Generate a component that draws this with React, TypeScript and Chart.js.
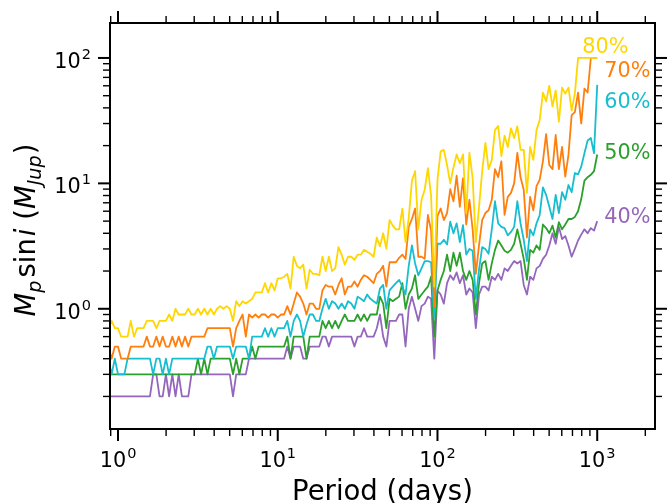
import React, { useEffect, useRef } from "react";
import { Chart, registerables } from "chart.js";

Chart.register(...registerables);

// Orbital period grid (days)
const periods = [
  0.871, 0.912, 0.955,
  1.0, 1.047, 1.096, 1.148, 1.202, 1.259, 1.318, 1.38, 1.445, 1.514,
  1.585, 1.66, 1.738, 1.82, 1.905, 1.995, 2.089, 2.188, 2.291, 2.399,
  2.512, 2.63, 2.754, 2.884, 3.02, 3.162, 3.311, 3.467, 3.631, 3.802,
  3.981, 4.169, 4.365, 4.571, 4.786, 5.012, 5.248, 5.495, 5.754, 6.026,
  6.31, 6.607, 6.918, 7.244, 7.586, 7.943, 8.318, 8.71, 9.12, 9.55,
  10.0, 10.47, 10.96, 11.48, 12.02, 12.59, 13.18, 13.8, 14.45, 15.14,
  15.85, 16.6, 17.38, 18.2, 19.05, 19.95, 20.89, 21.88, 22.91, 23.99,
  25.12, 26.3, 27.54, 28.84, 30.2, 31.62, 33.11, 34.67, 36.31, 38.02,
  39.81, 41.69, 43.65, 45.71, 47.86, 50.12, 52.48, 54.95, 57.54, 60.26,
  63.1, 66.07, 69.18, 72.44, 75.86, 79.43, 83.18, 87.1, 91.2, 95.5,
  100, 104.7, 109.6, 114.8, 120.2, 125.9, 131.8, 138, 144.5, 151.4,
  158.5, 166, 173.8, 182, 190.5, 199.5, 208.9, 218.8, 229.1, 239.9,
  251.2, 263, 275.4, 288.4, 302, 316.2, 331.1, 346.7, 363.1, 380.2,
  398.1, 416.9, 436.5, 457.1, 478.6, 501.2, 524.8, 549.5, 575.4, 602.6,
  631, 660.7, 691.8, 724.4, 758.6, 794.3, 831.8, 871, 912, 955,
  1000,
];

// Msini limits (M_Jup) for each completeness level
const mass40 = [
  0.2, 0.2, 0.2, 0.2, 0.2, 0.2, 0.2, 0.2, 0.2, 0.2,
  0.2, 0.2, 0.2, 0.2, 0.3, 0.3, 0.2, 0.2, 0.3, 0.2,
  0.3, 0.2, 0.3, 0.2, 0.2, 0.2, 0.3, 0.3, 0.3, 0.3,
  0.3, 0.3, 0.3, 0.3, 0.3, 0.3, 0.3, 0.3, 0.3, 0.2,
  0.3, 0.3, 0.3, 0.3, 0.4, 0.4, 0.4, 0.4, 0.4, 0.4,
  0.4, 0.4, 0.4, 0.4, 0.4, 0.4, 0.5, 0.4, 0.5, 0.5,
  0.5, 0.4, 0.4, 0.5, 0.5, 0.5, 0.5, 0.6, 0.6, 0.5,
  0.6, 0.6, 0.6, 0.6, 0.6, 0.6, 0.6, 0.5, 0.6, 0.6,
  0.7, 0.6, 0.6, 0.6, 0.7, 0.9, 0.6, 0.5, 0.8, 0.8,
  0.8, 0.9, 0.9, 0.5, 1.0, 1.25, 1.0, 0.8, 1.05, 1.1,
  1.25, 1.2, 0.4, 1.4, 1.3, 1.1, 1.6, 1.85, 1.7, 1.95,
  1.6, 1.85, 1.3, 1.45, 1.35, 0.7, 1.3, 1.5, 1.5, 1.4,
  1.8, 1.7, 1.9, 1.7, 2.1, 2.0, 2.2, 2.4, 2.3, 2.4,
  1.55, 1.3, 1.8, 1.7, 2.1, 2.2, 2.5, 2.7, 3.2, 4.0,
  3.3, 4.5, 3.6, 3.8, 3.2, 2.6, 3.0, 3.5, 3.9, 4.3,
  4.0, 4.4, 4.2, 5.0,
];

const mass50 = [
  0.3, 0.3, 0.3, 0.3, 0.3, 0.3, 0.3, 0.3, 0.3, 0.3,
  0.3, 0.3, 0.3, 0.3, 0.3, 0.3, 0.3, 0.3, 0.3, 0.3,
  0.3, 0.3, 0.3, 0.3, 0.3, 0.3, 0.3, 0.3, 0.4, 0.3,
  0.4, 0.3, 0.4, 0.4, 0.4, 0.4, 0.4, 0.4, 0.4, 0.3,
  0.4, 0.3, 0.4, 0.4, 0.4, 0.5, 0.4, 0.5, 0.5, 0.5,
  0.5, 0.5, 0.5, 0.5, 0.5, 0.5, 0.6, 0.4, 0.6, 0.6,
  0.6, 0.6, 0.4, 0.6, 0.6, 0.6, 0.6, 0.8, 0.7, 0.8,
  0.7, 0.8, 0.7, 0.8, 0.9, 0.8, 0.8, 0.8, 0.9, 0.8,
  0.9, 0.8, 0.9, 0.9, 0.9, 1.25, 1.1, 0.7, 1.2, 1.15,
  1.2, 1.25, 1.6, 1.0, 1.3, 1.45, 1.85, 1.2, 1.3, 1.4,
  1.5, 1.8, 0.6, 1.4, 1.7, 2.0, 2.7, 2.0, 2.8, 2.2,
  2.8, 2.0, 1.7, 2.0, 1.7, 0.9, 1.6, 2.3, 2.4, 1.7,
  2.3, 2.95, 3.5, 3.2, 2.9, 2.8, 2.95, 3.3, 4.3, 3.3,
  2.5, 1.7, 2.95, 2.8, 3.2, 2.95, 4.7, 4.4, 4.0, 4.6,
  3.7, 4.9, 4.3, 4.7, 5.2, 5.2, 5.4, 6.0, 7.5, 10.5,
  11.2, 11.7, 12.5, 17,
];

const mass60 = [
  0.4, 0.3, 0.4, 0.3, 0.3, 0.3, 0.4, 0.4, 0.4, 0.4,
  0.4, 0.4, 0.4, 0.4, 0.3, 0.4, 0.4, 0.3, 0.4, 0.3,
  0.4, 0.4, 0.4, 0.4, 0.4, 0.4, 0.4, 0.4, 0.4, 0.4,
  0.4, 0.5, 0.5, 0.4, 0.5, 0.5, 0.5, 0.5, 0.5, 0.4,
  0.5, 0.5, 0.5, 0.5, 0.4, 0.6, 0.6, 0.6, 0.6, 0.7,
  0.6, 0.7, 0.6, 0.7, 0.7, 0.7, 0.8, 0.6, 0.8, 0.9,
  0.8, 0.6, 0.75, 0.9, 0.9, 0.8, 0.8, 1.0, 1.2, 1.0,
  1.15, 1.1, 1.0, 1.1, 1.0, 1.15, 1.1, 1.0, 1.25, 1.2,
  1.15, 1.3, 1.2, 1.15, 1.1, 1.45, 1.55, 1.0, 1.4, 1.5,
  1.6, 1.7, 1.5, 1.3, 2.2, 3.2, 2.3, 1.85, 2.1, 2.4,
  2.4, 2.35, 0.85, 3.3, 3.3, 3.55, 3.25, 4.95, 4.0, 4.8,
  3.4, 4.65, 2.7, 3.0, 2.9, 1.2, 2.05, 3.1, 3.0, 2.75,
  4.3, 7.2, 4.8, 4.5, 4.4, 3.85, 4.1, 4.5, 7.2, 4.8,
  3.55, 2.4, 4.3, 3.85, 4.8, 5.6, 9.3, 8.1, 6.5, 5.2,
  8.1, 5.8, 8.5, 7.4, 9.7, 8.5, 12.1, 11.8, 13.6, 17.4,
  22, 23, 17.4, 61,
];

const mass70 = [
  0.5, 0.4, 0.5, 0.5, 0.4, 0.4, 0.4, 0.5, 0.5, 0.5,
  0.5, 0.5, 0.6, 0.5, 0.5, 0.6, 0.5, 0.6, 0.5, 0.5,
  0.6, 0.5, 0.6, 0.5, 0.6, 0.5, 0.6, 0.6, 0.6, 0.6,
  0.6, 0.7, 0.7, 0.7, 0.7, 0.7, 0.7, 0.7, 0.7, 0.5,
  0.7, 0.8, 0.9, 0.6, 0.9, 0.85, 0.9, 0.85, 0.9, 0.9,
  0.85, 0.9, 0.9, 0.85, 0.9, 0.9, 1.05, 0.9, 1.1, 1.35,
  1.25, 1.1, 0.9, 1.1, 1.1, 1.0, 1.0, 1.4, 1.55, 1.5,
  1.5, 1.3, 1.55, 1.75, 1.3, 1.5, 1.5, 1.65, 1.5, 1.7,
  1.85, 1.8, 1.7, 1.6, 1.9, 2.0, 2.2, 1.5, 2.35, 2.35,
  2.35, 2.55, 2.7, 2.5, 4.5, 5.2, 6.3, 2.6, 2.6, 2.5,
  5.6, 4.2, 1.05, 5.5, 6.3, 5.1, 5.8, 9.0, 7.2, 11.5,
  6.5, 11, 4.7, 7.4, 4.3, 1.9, 3.2, 5.1, 5.8, 6.1,
  7.4, 13, 11.2, 15, 5.6, 7.8, 8.4, 10, 17.5, 11.2,
  8.9, 3.7, 7.8, 6.1, 9.5, 10.7, 15, 24.7, 14, 13,
  24.3, 13, 19.5, 11.3, 16.9, 35, 37, 53, 30, 57,
  53, 100, 100, 100,
];

const mass80 = [
  0.7, 0.8, 0.7, 0.7, 0.6, 0.6, 0.6, 0.8, 0.6, 0.7,
  0.7, 0.7, 0.8, 0.8, 0.8, 0.7, 0.8, 0.8, 0.8, 0.9,
  0.8, 1.0, 0.9, 0.9, 0.9, 1.0, 0.9, 0.9, 1.0, 0.9,
  1.0, 0.9, 1.0, 0.9, 1.0, 1.05, 1.0, 1.05, 1.0, 0.8,
  1.15, 1.05, 1.15, 1.1, 1.15, 1.2, 1.35, 1.35, 1.35, 1.6,
  1.35, 1.6, 1.4, 1.75, 1.75, 1.8, 1.9, 1.45, 2.6, 2.2,
  2.1, 2.25, 1.45, 2.05, 1.9, 1.9, 1.85, 2.6, 2.0, 2.6,
  2.0, 2.1, 3.1, 2.7, 2.25, 2.6, 2.6, 2.45, 2.7, 2.7,
  2.95, 2.85, 2.75, 2.6, 3.7, 3.15, 4.0, 3.0, 5.1, 4.6,
  4.3, 4.3, 6.3, 3.4, 5.3, 10.5, 12.5, 4.3, 7.4, 8.9,
  13.2, 8.0, 1.5, 10.7, 18, 18.5, 14, 10, 13.4, 17,
  14.5, 17, 5.8, 17.5, 11, 3.4, 6.5, 12.5, 21, 13,
  15.4, 26.7, 28.7, 16.5, 24, 19.5, 27.5, 23, 28.5, 18.5,
  18.5, 8.4, 19.5, 15.4, 26.7, 32, 53, 45, 60, 41,
  55, 31, 58, 52, 58, 38, 52, 100, 100, 100,
  100, 100, 100, 100,
];

const seriesNames = ["80%", "70%", "60%", "50%", "40%"];
const seriesValues = [mass80, mass70, mass60, mass50, mass40];
const seriesColors = ["#ffd700", "#ff7f0e", "#17becf", "#2ca02c", "#9467bd"];

// Where each percentage label sits (period, Msini)
const labelPeriod = [806, 1106, 1106, 1106, 1106];
const labelMass = [109.6, 70.6, 39.7, 15.6, 4.87];

const xMajorTicks = [1, 10, 100, 1000];
const xMajorExp = ["0", "1", "2", "3"];
const yMajorTicks = [1, 10, 100];
const yMajorExp = ["0", "1", "2"];

const FONT = "'DejaVu Sans', 'Liberation Sans', sans-serif";

const mplAxes = {
  id: "mplAxes",
  afterDatasetsDraw(chart: any) {
    const { ctx, chartArea: a, scales } = chart;
    const xs = scales.x;
    const ys = scales.y;
    ctx.save();
    ctx.strokeStyle = "#000";
    ctx.fillStyle = "#000";
    ctx.lineCap = "butt";

    // spines
    ctx.lineWidth = 2;
    ctx.strokeRect(a.left, a.top, a.right - a.left, a.bottom - a.top);

    const line = (x1: number, y1: number, x2: number, y2: number, w: number) => {
      ctx.lineWidth = w;
      ctx.beginPath();
      ctx.moveTo(x1, y1);
      ctx.lineTo(x2, y2);
      ctx.stroke();
    };

    const MAJ = 12, MIN = 7;
    for (let k = -1; k <= 3; k++) {
      for (let m = 1; m <= 9; m++) {
        const v = m * Math.pow(10, k);
        if (v >= xs.min && v <= xs.max) {
          const px = xs.getPixelForValue(v);
          const len = m === 1 ? MAJ : MIN;
          const w = m === 1 ? 2 : 1.4;
          line(px, a.bottom, px, a.bottom + len, w);
          line(px, a.top, px, a.top - len, w);
        }
        if (v >= ys.min && v <= ys.max) {
          const py = ys.getPixelForValue(v);
          const len = m === 1 ? MAJ : MIN;
          const w = m === 1 ? 2 : 1.4;
          line(a.left, py, a.left - len, py, w);
          line(a.right, py, a.right + len, py, w);
        }
      }
    }

    // tick labels 10^n
    const bigF = `20.8px ${FONT}`;
    const supF = `14.5px ${FONT}`;
    ctx.textBaseline = "alphabetic";
    ctx.textAlign = "left";
    const powWidth = (e: string) => {
      ctx.font = bigF;
      const w1 = ctx.measureText("10").width;
      ctx.font = supF;
      const w2 = ctx.measureText(e).width;
      return { w1, w2, tot: w1 + 1 + w2 };
    };
    const drawPow = (e: string, x0: number, base: number) => {
      const { w1 } = powWidth(e);
      ctx.font = bigF;
      ctx.fillText("10", x0, base);
      ctx.font = supF;
      ctx.fillText(e, x0 + w1 + 1, base - 9);
    };
    xMajorTicks.forEach((v, i) => {
      const px = xs.getPixelForValue(v);
      const { tot } = powWidth(xMajorExp[i]);
      drawPow(xMajorExp[i], px - tot / 2, a.bottom + 37.5);
    });
    yMajorTicks.forEach((v, i) => {
      const py = ys.getPixelForValue(v);
      const { tot } = powWidth(yMajorExp[i]);
      drawPow(yMajorExp[i], a.left - 19 - tot, py + 9.8);
    });

    // x axis title
    ctx.font = `27.5px ${FONT}`;
    ctx.textAlign = "center";
    ctx.fillText("Period (days)", (a.left + a.right) / 2, a.bottom + 71);

    // y axis title (rotated, with math-style italics and subscripts)
    const runs = [
      { t: "M", st: "italic", s: 27.5, dy: 0, gap: 0 },
      { t: "p", st: "italic", s: 19.3, dy: 5.5, gap: 0 },
      { t: "sin", st: "normal", s: 27.5, dy: 0, gap: 3 },
      { t: "i", st: "italic", s: 27.5, dy: 0, gap: 2 },
      { t: " (", st: "normal", s: 27.5, dy: 0, gap: 0 },
      { t: "M", st: "italic", s: 27.5, dy: 0, gap: 0 },
      { t: "Jup", st: "italic", s: 19.3, dy: 5.5, gap: 0 },
      { t: ")", st: "normal", s: 27.5, dy: 0, gap: 1 },
    ];
    ctx.textAlign = "left";
    let total = 0;
    const widths = runs.map((r) => {
      ctx.font = `${r.st} ${r.s}px ${FONT}`;
      const w = ctx.measureText(r.t).width;
      total += w + r.gap;
      return w;
    });
    ctx.save();
    ctx.translate(a.left - 75, (a.top + a.bottom) / 2 + 4);
    ctx.rotate(-Math.PI / 2);
    let cx = -total / 2;
    runs.forEach((r, i) => {
      cx += r.gap;
      ctx.font = `${r.st} ${r.s}px ${FONT}`;
      ctx.fillText(r.t, cx, r.dy);
      cx += widths[i];
    });
    ctx.restore();

    // percentage labels
    ctx.font = `20.8px ${FONT}`;
    ctx.textAlign = "left";
    seriesNames.forEach((name, i) => {
      ctx.fillStyle = seriesColors[i];
      ctx.fillText(name, xs.getPixelForValue(labelPeriod[i]), ys.getPixelForValue(labelMass[i]));
    });

    ctx.restore();
  },
};

export default function App() {
  const ref = useRef<HTMLCanvasElement | null>(null);

  useEffect(() => {
    if (!ref.current) return;
    const datasets = seriesNames.map((name, s) => ({
      label: name,
      data: periods.map((p, i) => ({ x: p, y: seriesValues[s][i] })),
      borderColor: seriesColors[s],
      backgroundColor: seriesColors[s],
      borderWidth: 1.8,
      borderJoinStyle: "round" as const,
      pointRadius: 0,
      pointHoverRadius: 0,
      tension: 0,
      fill: false,
    }));
    const chart = new Chart(ref.current, {
      type: "line",
      data: { datasets },
      options: {
        responsive: false,
        animation: false,
        parsing: false as any,
        layout: { padding: { left: 110, right: 15, top: 23, bottom: 74 } },
        plugins: {
          legend: { display: false },
          tooltip: { enabled: false },
          title: { display: false },
        },
        scales: {
          x: { type: "logarithmic", min: 0.891, max: 2300, display: false },
          y: { type: "logarithmic", min: 0.11, max: 190, display: false },
        },
      },
      plugins: [mplAxes],
    });
    return () => chart.destroy();
  }, []);

  return (
    <div style={{ position: "absolute", left: 0, top: 0, width: 670, height: 503, background: "#fff" }}>
      <canvas ref={ref} width={670} height={503} />
    </div>
  );
}
